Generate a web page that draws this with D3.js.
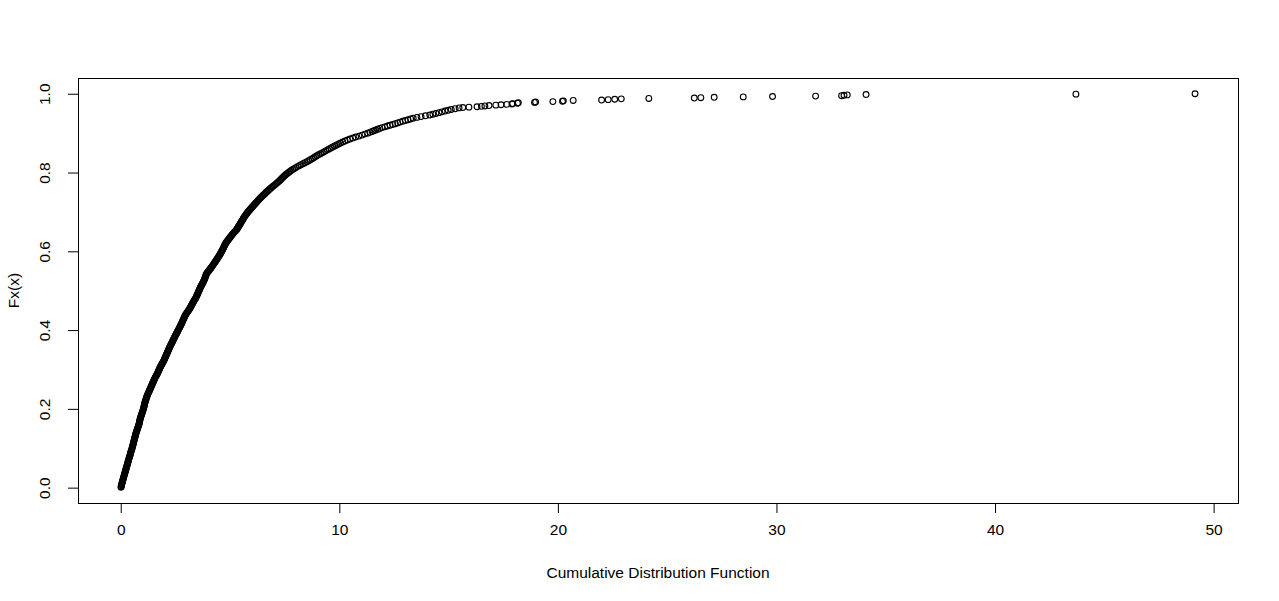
<!DOCTYPE html>
<html>
<head>
<meta charset="utf-8">
<title>Cumulative Distribution Function</title>
<script src="https://cdn.jsdelivr.net/npm/d3@7"></script>
<style>
  html, body { margin: 0; padding: 0; background: #fff; }
  svg { display: block; font-family: "Liberation Sans", Arial, sans-serif; }
</style>
</head>
<body>
<div id="chart"></div>
<script>
///////////// DATA (x, Fx(x)) /////////////
// steep part of the curve
var steepFx = [0.001,
  0.005,0.010,0.015,0.020,0.025,0.030,0.035,0.040,0.045,0.050,
  0.055,0.060,0.065,0.070,0.075,0.080,0.085,0.090,0.095,0.100,
  0.105,0.110,0.115,0.120,0.125,0.130,0.135,0.140,0.145,0.150,
  0.155,0.160,0.165,0.170,0.175,0.180,0.185,0.190,0.195,0.200,
  0.205,0.210,0.215,0.220,0.225,0.230,0.235,0.240,0.245,0.250,
  0.255,0.260,0.265,0.270,0.275,0.280,0.285,0.290,0.295,0.300,
  0.305,0.310,0.315,0.320,0.325,0.330,0.335,0.340,0.345,0.350,
  0.355,0.360,0.365,0.370,0.375,0.380,0.385,0.390,0.395,0.400,
  0.405,0.410,0.415,0.420,0.425,0.430,0.435,0.440,0.445,0.450,
  0.455,0.460,0.465,0.470,0.475,0.480,0.485,0.490,0.495,0.500,
  0.505,0.510,0.515,0.520,0.525,0.530,0.535,0.540,0.545,0.550,
  0.555,0.560,0.565,0.570,0.575,0.580,0.585,0.590,0.595,0.600,
  0.605,0.610,0.615,0.620,0.625,0.630,0.635,0.640,0.645,0.650,
  0.655,0.660,0.665,0.670,0.675,0.680,0.685,0.690,0.695,0.700,
  0.705,0.710,0.715,0.720,0.725,0.730,0.735,0.740,0.745,0.750,
  0.755,0.760,0.765,0.770,0.775,0.780,0.785,0.790,0.795,0.800]
var steepX = [0.01,
  0.03,0.05,0.08,0.10,0.13,0.15,0.18,0.20,0.23,0.25,
  0.28,0.31,0.33,0.36,0.38,0.41,0.44,0.46,0.49,0.52,
  0.54,0.57,0.59,0.61,0.63,0.66,0.68,0.71,0.74,0.77,
  0.80,0.83,0.85,0.87,0.89,0.92,0.95,0.98,1.01,1.04,
  1.06,1.08,1.10,1.13,1.16,1.19,1.22,1.26,1.30,1.34,
  1.38,1.42,1.46,1.50,1.54,1.58,1.63,1.68,1.72,1.76,
  1.80,1.85,1.90,1.95,1.99,2.03,2.07,2.11,2.15,2.19,
  2.23,2.27,2.31,2.36,2.40,2.45,2.49,2.54,2.59,2.63,
  2.68,2.72,2.77,2.81,2.85,2.89,2.93,2.98,3.04,3.10,
  3.16,3.21,3.26,3.31,3.36,3.42,3.46,3.50,3.54,3.58,
  3.62,3.66,3.71,3.76,3.80,3.84,3.87,3.90,3.95,4.02,
  4.09,4.16,4.22,4.28,4.34,4.40,4.46,4.52,4.57,4.62,
  4.67,4.71,4.75,4.80,4.86,4.93,5.00,5.07,5.14,5.22,
  5.30,5.36,5.41,5.47,5.52,5.58,5.63,5.69,5.75,5.82,
  5.90,5.98,6.06,6.14,6.22,6.30,6.38,6.47,6.57,6.66,
  6.76,6.86,6.97,7.08,7.18,7.28,7.37,7.46,7.56,7.68]

// the same stretch read again half a step higher (the band is solid there)
var steepFx2 = [0.0025,0.0075,0.0125,0.0175,0.0225,0.0275,0.0325,0.0375,0.0425,0.0475,
  0.0525,0.0575,0.0625,0.0675,0.0725,0.0775,0.0825,0.0875,0.0925,0.0975,
  0.1025,0.1075,0.1125,0.1175,0.1225,0.1275,0.1325,0.1375,0.1425,0.1475,
  0.1525,0.1575,0.1625,0.1675,0.1725,0.1775,0.1825,0.1875,0.1925,0.1975,
  0.2025,0.2075,0.2125,0.2175,0.2225,0.2275,0.2325,0.2375,0.2425,0.2475,
  0.2525,0.2575,0.2625,0.2675,0.2725,0.2775,0.2825,0.2875,0.2925,0.2975,
  0.3025,0.3075,0.3125,0.3175,0.3225,0.3275,0.3325,0.3375,0.3425,0.3475,
  0.3525,0.3575,0.3625,0.3675,0.3725,0.3775,0.3825,0.3875,0.3925,0.3975,
  0.4025,0.4075,0.4125,0.4175,0.4225,0.4275,0.4325,0.4375,0.4425,0.4475,
  0.4525,0.4575,0.4625,0.4675,0.4725,0.4775,0.4825,0.4875,0.4925,0.4975,
  0.5025,0.5075,0.5125,0.5175,0.5225,0.5275,0.5325,0.5375,0.5425,0.5475,
  0.5525,0.5575,0.5625,0.5675,0.5725,0.5775,0.5825,0.5875,0.5925,0.5975,
  0.6025,0.6075,0.6125,0.6175,0.6225,0.6275,0.6325,0.6375,0.6425,0.6475,
  0.6525,0.6575,0.6625,0.6675,0.6725,0.6775,0.6825,0.6875,0.6925,0.6975,
  0.7025,0.7075,0.7125,0.7175,0.7225,0.7275,0.7325,0.7375,0.7425,0.7475,
  0.7525,0.7575,0.7625,0.7675,0.7725,0.7775,0.7825,0.7875,0.7925,0.7975]
var steepX2 = [0.02,0.04,0.065,0.09,0.115,0.14,0.165,0.19,0.215,0.24,
  0.265,0.295,0.32,0.345,0.37,0.395,0.425,0.45,0.475,0.505,
  0.53,0.555,0.58,0.60,0.62,0.645,0.67,0.695,0.725,0.755,
  0.785,0.815,0.84,0.86,0.88,0.905,0.935,0.965,0.995,1.025,
  1.05,1.07,1.09,1.115,1.145,1.175,1.205,1.24,1.28,1.32,
  1.36,1.40,1.44,1.48,1.52,1.56,1.605,1.655,1.70,1.74,
  1.78,1.825,1.875,1.925,1.97,2.01,2.05,2.09,2.13,2.17,
  2.21,2.25,2.29,2.335,2.38,2.425,2.47,2.515,2.565,2.61,
  2.655,2.70,2.745,2.79,2.83,2.87,2.91,2.955,3.01,3.07,
  3.13,3.185,3.235,3.285,3.335,3.39,3.44,3.48,3.52,3.56,
  3.60,3.64,3.685,3.735,3.78,3.82,3.855,3.885,3.925,3.985,
  4.055,4.125,4.19,4.25,4.31,4.37,4.43,4.49,4.545,4.595,
  4.645,4.69,4.73,4.775,4.83,4.895,4.965,5.035,5.105,5.18,
  5.26,5.33,5.385,5.44,5.495,5.55,5.605,5.66,5.72,5.785,
  5.86,5.94,6.02,6.10,6.18,6.26,6.34,6.425,6.52,6.615,
  6.71,6.81,6.915,7.025,7.13,7.23,7.325,7.415,7.51,7.62]

// the bend
var bendFx = [0.8025,0.8050,0.8075,0.8100,0.8125,0.8150,0.8175,0.8200,0.8225,0.8250,
  0.8275,0.8300,0.8325,0.8350,0.8375,0.8400,0.8425,0.8450,0.8475,0.8500,
  0.8525,0.8550,0.8575,0.8600,0.8625,0.8650,0.8675,0.8700,0.8725,0.8750,
  0.8775,0.8800,0.8825,0.8850,0.8875,0.8900,0.8925,0.8950,0.8975,0.9000]
var bendX = [7.74,7.80,7.87,7.94,8.01,8.09,8.17,8.25,8.34,8.43,
  8.52,8.60,8.68,8.76,8.83,8.90,8.97,9.05,9.14,9.22,
  9.30,9.38,9.46,9.54,9.62,9.70,9.79,9.88,9.97,10.06,
  10.16,10.26,10.37,10.49,10.62,10.75,10.90,11.04,11.17,11.30]

// flattening part
var flatFx = [0.902,0.904,0.906,0.908,0.910,0.912,0.914,0.916,0.918,0.920,
  0.922,0.924,0.926,0.928,0.930,0.932,0.934,0.936,0.938,0.940,
  0.942,0.944,0.946,0.948,0.950,0.952,0.954,0.956,0.958,0.960,0.962,0.964]
var flatX = [11.40,11.50,11.58,11.67,11.76,11.85,11.96,12.08,12.20,12.32,
  12.44,12.56,12.67,12.78,12.90,13.02,13.14,13.26,13.38,13.55,
  13.74,13.94,14.14,14.28,14.42,14.56,14.70,14.84,14.98,15.12,15.30,15.48]

// single points of the upper tail
var tailFx = [0.965,0.966,0.967,0.968,0.969,0.970,0.971,0.972,0.973,0.974,
  0.975,0.976,0.977,0.978,0.979,0.980,0.981,0.982,0.983,0.984,
  0.985,0.986,0.987,0.988,0.989,0.990,0.991,0.992,0.993,0.994,
  0.995,0.996,0.997,0.998,0.999,1.000]
var tailX = [15.65,15.93,16.30,16.50,16.66,16.85,17.16,17.40,17.66,17.90,
  17.93,18.15,18.19,18.93,18.98,19.77,20.21,20.25,20.70,22.00,
  22.30,22.60,22.90,24.16,26.24,26.54,27.15,28.48,29.82,31.79,
  32.98,33.09,33.24,34.10,43.70,49.15]

var xTicks = [0, 10, 20, 30, 40, 50]
var yTicks = [0.0, 0.2, 0.4, 0.6, 0.8, 1.0]
var xTitle = "Cumulative Distribution Function"
var yTitle = "Fx(x)"

///////////// BUILD POINT LIST /////////////
var points = []
function addPoints(xs, fs){
  for(var i = 0; i < xs.length; i++){
    points.push([xs[i], fs[i]])
  }
}
addPoints(steepX, steepFx)
addPoints(steepX2, steepFx2)
addPoints(bendX, bendFx)
addPoints(flatX, flatFx)
addPoints(tailX, tailFx)

///////////// SVG + SCALES (R style 4% padding) /////////////
var w = 1279, h = 601
var box = {left: 78, right: 1238, top: 78, bottom: 503}

function padded(ext){
  var d = (ext[1] - ext[0]) * 0.04
  return [ext[0] - d, ext[1] + d]
}

var x = d3.scaleLinear()
  .domain(padded(d3.extent(points, function(d){ return d[0] })))
  .range([box.left, box.right])
var y = d3.scaleLinear()
  .domain(padded(d3.extent(points, function(d){ return d[1] })))
  .range([box.bottom, box.top])

var svg = d3.select("#chart")
  .append("svg")
  .attr("width", w)
  .attr("height", h)

svg.append("rect")
  .attr("width", w)
  .attr("height", h)
  .attr("fill", "#fff")

// points (open circles, pch = 1)
svg.append("g")
  .selectAll("circle")
  .data(points)
  .enter()
  .append("circle")
  .attr("cx", function(d){ return x(d[0]) })
  .attr("cy", function(d){ return y(d[1]) })
  .attr("r", 2.9)
  .attr("fill", "none")
  .attr("stroke", "#000")
  .attr("stroke-width", 1.1)

// axes
var xAxis = svg.append("g")
  .attr("transform", "translate(0," + box.bottom + ")")
  .call(d3.axisBottom(x).tickValues(xTicks).tickSize(10).tickPadding(11)
    .tickFormat(d3.format("d")))
var yAxis = svg.append("g")
  .attr("transform", "translate(" + box.left + ",0)")
  .call(d3.axisLeft(y).tickValues(yTicks).tickSize(10).tickFormat(d3.format(".1f")))

xAxis.select(".domain").remove()
yAxis.select(".domain").remove()
svg.selectAll(".tick line").attr("stroke", "#000")
svg.selectAll(".tick text")
  .attr("fill", "#000")
  .attr("font-size", "15.5px")
  .attr("font-family", "Liberation Sans, Arial, sans-serif")

// rotate y tick labels like R (las = 0)
yAxis.selectAll(".tick text")
  .attr("x", null)
  .attr("dy", null)
  .attr("text-anchor", "middle")
  .attr("transform", "translate(-28,0) rotate(-90)")

// plot frame
svg.append("rect")
  .attr("x", box.left + 0.5)
  .attr("y", box.top + 0.5)
  .attr("width", box.right - box.left)
  .attr("height", box.bottom - box.top)
  .attr("fill", "none")
  .attr("stroke", "#000")
  .attr("stroke-width", 1)

// titles
svg.append("text")
  .attr("x", (box.left + box.right) / 2)
  .attr("y", 578)
  .attr("text-anchor", "middle")
  .attr("font-size", "15.5px")
  .text(xTitle)

svg.append("text")
  .attr("transform", "translate(19," + (box.top + box.bottom) / 2 + ") rotate(-90)")
  .attr("text-anchor", "middle")
  .attr("font-size", "15.5px")
  .text(yTitle)
</script>
</body>
</html>
